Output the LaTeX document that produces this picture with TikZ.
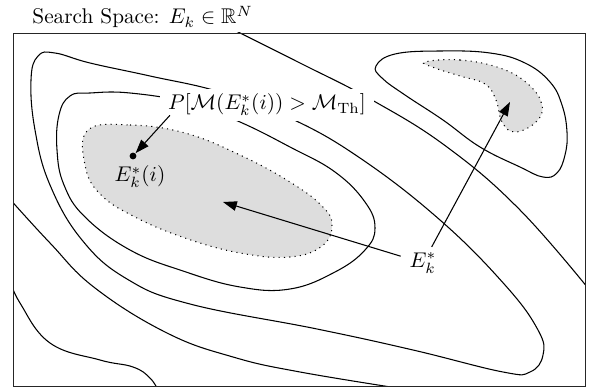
\documentclass[tikz,border=0pt]{standalone}
\usepackage{amssymb}
\usetikzlibrary{arrows.meta,positioning}
\definecolor{SrchGray}{RGB}{221,221,221}
\tikzset{
  srch/frame/.style={draw=black!85, line width=0.45pt},
  srch/contour/.style={draw=black, line width=0.5pt},
  srch/region/.style={fill=SrchGray, draw=black, dotted, line width=0.5pt},
  srch/arrow/.style={-{Triangle[length=6.5pt,width=4.5pt]}, line width=0.5pt, draw=black},
  srch/label/.style={inner xsep=4pt, inner ysep=2.5pt, font=\normalsize},
  srch/dot/.style={circle, fill=black, inner sep=0pt, minimum size=3.2pt}
}

\begin{document}
\begin{tikzpicture}[x=0.47pt,y=-0.47pt]
  \useasboundingbox (0,0) rectangle (589,387);

  % feasible regions
  \draw[srch/region] plot[smooth cycle, tension=0.7] coordinates {
    (88,130) (130,125) (185,133) (240,155) (290,182) (322,206) (332,225)
    (322,246) (290,257) (240,253) (185,238) (135,217) (100,194) (85,165)};
  \draw[srch/region] plot[smooth cycle, tension=0.7] coordinates {
    (425,62) (460,60) (500,68) (528,84) (542,105) (536,122) (515,132)
    (502,122) (496,100) (485,84) (460,76) (435,68)};

  % contour lines
  \begin{scope}
    \clip (13,33) rectangle (585,386);
    \draw[srch/contour] plot[smooth cycle, tension=0.7] coordinates {
      (31,80) (35,130) (50,185) (82,240) (127,279) (190,304) (317,329)
      (413,350) (503,372) (530,372) (543,355) (538,330) (505,285) (440,220)
      (360,158) (290,118) (220,92) (150,76) (90,63) (55,53) (38,56)};
    \draw[srch/contour] plot[smooth cycle, tension=0.7] coordinates {
      (70,96) (59,115) (57,150) (64,185) (85,217) (130,250) (183,271)
      (240,287) (290,289) (335,272) (365,250) (375,228) (365,202)
      (335,172) (290,147) (240,122) (190,103) (130,93) (90,93)};
    \draw[srch/contour] plot[smooth cycle, tension=0.7] coordinates {
      (376,66) (395,54) (440,51) (490,53) (525,63) (550,82) (562,105)
      (567,132) (565,155) (557,173) (543,177) (520,167) (480,147) (443,120)
      (405,95) (382,78)};
    \draw[srch/contour] plot[smooth, tension=0.7] coordinates {
      (230,28) (300,63) (372,100) (447,147) (520,210) (592,293)};
    \draw[srch/contour] plot[smooth, tension=0.7] coordinates {
      (8,197) (50,243) (95,288) (167,333) (233,357) (300,372) (410,390)};
    \draw[srch/contour] plot[smooth, tension=0.7] coordinates {
      (10,280) (20,303) (50,343) (100,360) (133,367) (150,378) (159,392)};
  \end{scope}
  \draw[srch/frame] (13,33) rectangle (585,386);

  % labels
  \node[srch/label, anchor=base west, inner sep=0pt] (title) at (32,24)
    {Search Space: $E_k \in \mathbb{R}^N$};
  \node[srch/label, fill=white] (prob) at (267,105)
    {$P[\mathcal{M}(E_k^*(i)) > \mathcal{M}_{\mathrm{Th}}]$};
  \node[srch/dot] (dot) at (133,156) {};
  \node[srch/label] (esti) at (140,177) {$E_k^*(i)$};
  \node[srch/label] (estar) at (423,263) {$E_k^*$};

  \coordinate (ctr) at (223,202);
  \coordinate (peak) at (510,102);

  % arrows
  \draw[srch/arrow] ([xshift=5pt,yshift=3pt]prob.south west) -- (dot);
  \draw[srch/arrow] (estar) -- (ctr);
  \draw[srch/arrow] (estar) -- (peak);
\end{tikzpicture}
\end{document}
